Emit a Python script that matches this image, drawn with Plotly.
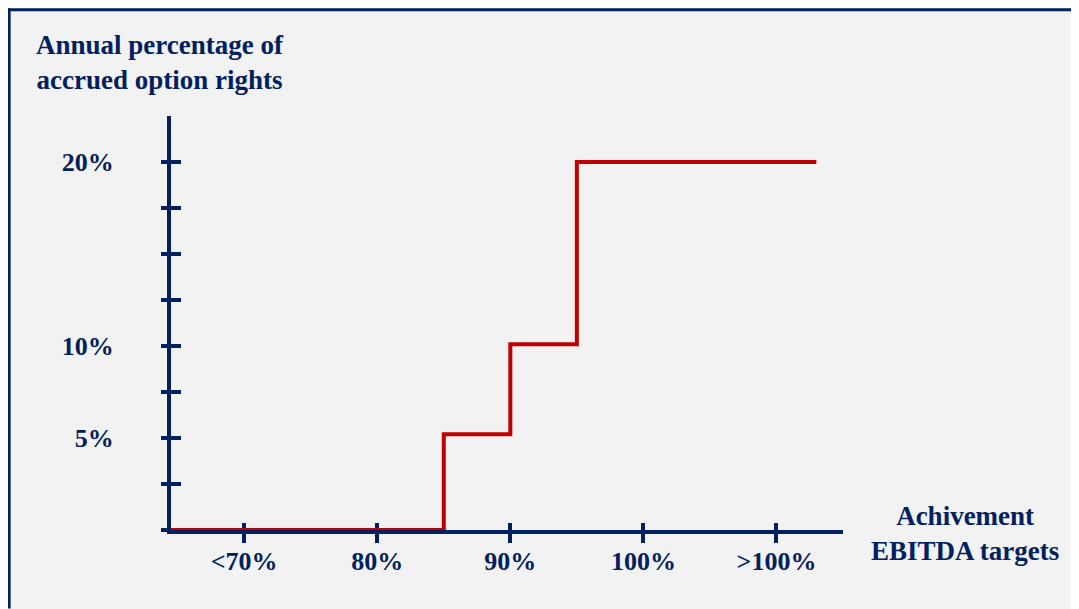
import plotly.graph_objects as go

# Data
x_steps = [64.5, 85, 90, 95, 113]          # achievement level (%), step breakpoints
y_steps = [0, 5.2, 10.1, 20, 20]           # annual percentage of accrued option rights
x_tickvals = [70, 80, 90, 100, 110]
x_ticktext = ["<70%", "80%", "90%", "100%", ">100%"]
y_tickvals = [0, 2.5, 5, 7.5, 10, 12.5, 15, 17.5, 20]
y_ticktext = ["", "", "5%", "", "10%", "", "", "", "20%"]

NAVY = "#002060"
RED = "#c00000"
FONT = "Liberation Serif"

fig = go.Figure()
fig.add_trace(go.Scatter(
    x=x_steps, y=y_steps, mode="lines", line=dict(color=RED, width=4, shape="hv"),
    cliponaxis=False, showlegend=False, hoverinfo="skip"))
fig.add_trace(go.Scatter(x=x_steps, y=y_steps, mode="none", xaxis="x2", yaxis="y2",
                         showlegend=False, hoverinfo="skip"))

W, H = 1071, 601
L, T = 163.3, 108
R = W - 835
B = H - 522.5
pw, ph = W - L - R, H - T - B

def px(xp):
    return (xp - L) / pw

def py(yp):
    return (H - B - yp) / ph

axis_common = dict(showgrid=False, zeroline=False, layer="below traces")
xr = [64.5, 115]
yr = [0, 22.5]

fig.update_layout(
    width=W, height=H,
    margin=dict(l=L, r=R, t=T, b=B, pad=0),
    paper_bgcolor="#f2f2f2", plot_bgcolor="rgba(0,0,0,0)",
    font=dict(family=FONT, color=NAVY, size=26),
    xaxis=dict(range=xr, tickvals=x_tickvals, ticktext=x_ticktext, ticks="outside",
               ticklen=9, tickwidth=4, tickcolor=NAVY, showline=True, linecolor=NAVY,
               linewidth=4, tickfont=dict(family=FONT, size=26, color=NAVY, weight="bold"),
               ticklabelstandoff=-4, **axis_common),
    yaxis=dict(range=yr, tickvals=y_tickvals, ticktext=y_ticktext, ticks="outside",
               ticklen=6, tickwidth=4, tickcolor=NAVY, showline=True, linecolor=NAVY,
               linewidth=4, tickfont=dict(family=FONT, size=26, color=NAVY, weight="bold"),
               ticklabelstandoff=42, **axis_common),
    xaxis2=dict(range=xr, overlaying="x", anchor="y", side="bottom", tickvals=x_tickvals,
                ticks="inside", ticklen=7, tickwidth=4, tickcolor=NAVY, showticklabels=False,
                showline=False, **axis_common),
    yaxis2=dict(range=yr, overlaying="y", anchor="x", side="left", tickvals=y_tickvals,
                ticks="inside", ticklen=10, tickwidth=4, tickcolor=NAVY, showticklabels=False,
                showline=False, **axis_common),
    shapes=[
        dict(type="line", xref="paper", yref="paper", layer="below",
             x0=px(0), x1=px(W), y0=py(1.5), y1=py(1.5), line=dict(color=NAVY, width=3)),
        dict(type="line", xref="paper", yref="paper", layer="below",
             x0=px(1.5), x1=px(1.5), y0=py(0), y1=py(H), line=dict(color=NAVY, width=3)),
    ],
    annotations=[
        dict(xref="paper", yref="paper", x=px(152), y=py(54), xanchor="center", yanchor="middle",
             text="<b>Annual percentage of<br>accrued option rights</b>", showarrow=False,
             font=dict(family=FONT, size=27, color=NAVY)),
        dict(xref="paper", yref="paper", x=px(957), y=py(526), xanchor="center", yanchor="middle",
             text="<b>Achivement<br>EBITDA targets</b>", showarrow=False,
             font=dict(family=FONT, size=27, color=NAVY)),
    ],
)

fig.write_html("out.html")
